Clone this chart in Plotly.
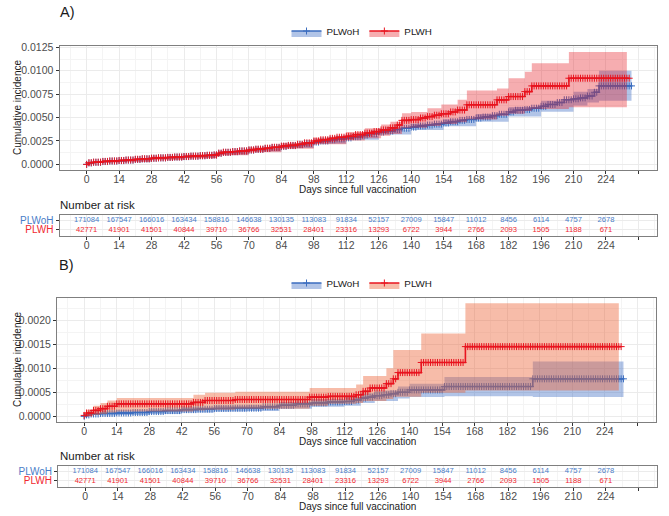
import numpy as np
import plotly.graph_objects as go

# ---------------- data ----------------
tick_days = [0, 14, 28, 42, 56, 70, 84, 98, 112, 126, 140, 154, 168, 182, 196, 210, 224]
risk_plwoh = [171084, 167547, 166016, 163434, 158816, 146638, 130135, 113083, 91834,
              52157, 27009, 15847, 11012, 8456, 6114, 4757, 2678]
risk_plwh = [42771, 41901, 41501, 40844, 39710, 36766, 32531, 28401, 23316,
             13293, 6722, 3944, 2766, 2093, 1505, 1188, 671]

# Panel A - PLWoH
a_plwoh_t = [0, 1, 3, 7, 10, 14, 17, 21, 24, 28, 31, 35, 38, 42, 45, 49, 52, 55, 57, 59, 63, 66, 70,
             73, 77, 80, 84, 87, 91, 94, 98, 101, 105, 108, 112, 115, 119, 122, 126, 129, 133, 136,
             140, 143, 147, 150, 154, 157, 161, 164, 168, 171, 175, 178, 182, 185, 189, 192, 196,
             199, 203, 206, 210, 213, 216, 219, 221, 235]
a_plwoh_v = [0.0, 0.00015, 0.00022, 0.00030, 0.00035, 0.00040, 0.00045, 0.00052, 0.00058, 0.00065,
             0.00069, 0.00074, 0.00078, 0.00083, 0.00087, 0.00092, 0.00096, 0.00100, 0.00118, 0.00128,
             0.00135, 0.00142, 0.00152, 0.00160, 0.00170, 0.00180, 0.00192, 0.00200, 0.00210, 0.00222,
             0.00238, 0.00250, 0.00262, 0.00272, 0.00283, 0.00295, 0.00312, 0.00328, 0.00345, 0.00356,
             0.00372, 0.00386, 0.00398, 0.00410, 0.00420, 0.00430, 0.00442, 0.00455, 0.00470, 0.00480,
             0.00495, 0.00505, 0.00520, 0.00535, 0.00560, 0.00578, 0.00585, 0.00600, 0.00620, 0.00640,
             0.00660, 0.00690, 0.00700, 0.00710, 0.00730, 0.00770, 0.00838, 0.00838]
a_plwoh_ci_t = [0, 7, 14, 28, 42, 56, 57, 70, 84, 98, 112, 126, 140, 154, 168, 182, 196, 210, 216, 221, 235]
a_plwoh_lo = [0.0, 0.00022, 0.00031, 0.00055, 0.00072, 0.00088, 0.00105, 0.00138, 0.00176, 0.00220,
              0.00262, 0.00320, 0.00368, 0.00408, 0.00455, 0.00510, 0.00562, 0.00630, 0.00660, 0.00680, 0.00680]
a_plwoh_hi = [0.0, 0.00038, 0.00049, 0.00075, 0.00095, 0.00113, 0.00132, 0.00166, 0.00208, 0.00256,
              0.00305, 0.00370, 0.00430, 0.00478, 0.00538, 0.00612, 0.00680, 0.00775, 0.00805, 0.01000, 0.01000]

# Panel A - PLWH
a_plwh_t = [0, 1, 3, 7, 10, 14, 17, 21, 24, 28, 31, 35, 38, 42, 45, 49, 52, 55, 57, 59, 63, 66, 70,
            73, 77, 80, 84, 87, 91, 94, 98, 101, 105, 108, 112, 116, 120, 124, 127, 131, 134, 136,
            140, 144, 147, 150, 153, 157, 160, 164, 177, 182, 189, 192, 208, 234]
a_plwh_v = [0.0, 0.00018, 0.00024, 0.00032, 0.00037, 0.00042, 0.00047, 0.00055, 0.00060, 0.00066,
            0.00070, 0.00075, 0.00079, 0.00084, 0.00088, 0.00093, 0.00097, 0.00101, 0.00120, 0.00130,
            0.00137, 0.00144, 0.00155, 0.00163, 0.00173, 0.00183, 0.00195, 0.00203, 0.00215, 0.00230,
            0.00250, 0.00263, 0.00278, 0.00290, 0.00300, 0.00318, 0.00334, 0.00350, 0.00368, 0.00390,
            0.00420, 0.00470, 0.00478, 0.00495, 0.00510, 0.00525, 0.00540, 0.00560, 0.00580, 0.00636,
            0.00689, 0.00724, 0.00777, 0.00838, 0.00920, 0.00920]
a_plwh_ci_t = [0, 7, 14, 28, 42, 56, 57, 70, 84, 98, 112, 120, 127, 131, 136, 140, 147, 153, 160, 164,
               177, 182, 189, 192, 208, 233]
a_plwh_lo = [0.0, 0.00020, 0.00028, 0.00050, 0.00066, 0.00080, 0.00098, 0.00130, 0.00166, 0.00215,
             0.00255, 0.00280, 0.00305, 0.00325, 0.00385, 0.00390, 0.00410, 0.00430, 0.00450, 0.00480,
             0.00520, 0.00540, 0.00570, 0.00590, 0.00610, 0.00610]
a_plwh_hi = [0.0, 0.00045, 0.00058, 0.00083, 0.00103, 0.00122, 0.00143, 0.00180, 0.00225, 0.00285,
             0.00345, 0.00385, 0.00425, 0.00455, 0.00545, 0.00560, 0.00600, 0.00640, 0.00690, 0.00790,
             0.00810, 0.00920, 0.00990, 0.01080, 0.01200, 0.01200]

# Panel B - PLWoH
b_plwoh_t = [0, 1, 3, 7, 14, 21, 28, 35, 42, 49, 56, 63, 70, 77, 84, 91, 98, 105, 112, 116, 119,
             122, 125, 129, 132, 135, 140, 155, 193, 232]
b_plwoh_v = [0.0, 0.00003, 0.00005, 0.00006, 0.00007, 0.00008, 0.00010, 0.00012, 0.00014, 0.00015,
             0.000165, 0.00017, 0.00017, 0.00020, 0.00023, 0.00026, 0.00028, 0.00030, 0.00031, 0.00034,
             0.00038, 0.00040, 0.00043, 0.00045, 0.00047, 0.00050, 0.00055, 0.00062, 0.00078, 0.00078]
b_plwoh_ci_t = [0, 7, 14, 28, 42, 56, 70, 84, 98, 112, 119, 125, 135, 140, 155, 193, 232]
b_plwoh_lo = [0.0, 0.00002, 0.00003, 0.00005, 0.00008, 0.00010, 0.00011, 0.00016, 0.00020, 0.00022,
              0.00028, 0.00032, 0.00037, 0.00040, 0.00042, 0.00040, 0.00040]
b_plwoh_hi = [0.0, 0.00010, 0.00012, 0.00015, 0.00019, 0.00022, 0.00023, 0.00030, 0.00036, 0.00040,
              0.00048, 0.00054, 0.00062, 0.00068, 0.00082, 0.00114, 0.00114]

# Panel B - PLWH
b_plwh_t = [0, 1, 4, 7, 10, 14, 47, 52, 65, 97, 105, 117, 120, 123, 130, 133, 135, 145, 164, 231]
b_plwh_v = [0.00002, 0.00007, 0.000125, 0.00016, 0.00021, 0.00026, 0.00029, 0.00033, 0.00035, 0.00040,
            0.000415, 0.00045, 0.00052, 0.00059, 0.00068, 0.00078, 0.00091, 0.00112, 0.00145, 0.00145]
b_plwh_ci_t = [0, 1, 4, 7, 10, 14, 47, 52, 65, 97, 105, 117, 120, 130, 133, 145, 164, 230]
b_plwh_lo = [0.0, 0.00001, 0.00003, 0.00005, 0.00008, 0.00010, 0.00012, 0.00014, 0.00016, 0.00022,
             0.00026, 0.00028, 0.00032, 0.00036, 0.00041, 0.00049, 0.00054, 0.00054]
b_plwh_hi = [0.00007, 0.00014, 0.00022, 0.00028, 0.00033, 0.00038, 0.00045, 0.00049, 0.00051, 0.00059,
             0.00059, 0.00066, 0.00084, 0.00100, 0.00138, 0.00172, 0.00235, 0.00235]

# ---------------- style ----------------
W, H = 669, 516
FONT = "Liberation Sans"
BLUE = "#3B6DBF"
RED = "#E8141F"
BLUE_FILL = "rgba(59,108,196,0.40)"
RED_FILL_A = "rgba(230,20,30,0.35)"
RED_FILL_B = "rgba(235,95,50,0.42)"
TXT_BLUE = "#4A7DC8"
TXT_RED = "#F02830"
GRID = "#EBEBEB"
GRID_MINOR = "#F4F4F4"
TICKC = "#4D4D4D"


def dx(l, r):
    return [l / W, r / W]


def dy(top, bottom):
    return [1 - bottom / H, 1 - top / H]


def step_at(t, v, x):
    t = np.asarray(t, float)
    v = np.asarray(v, float)
    idx = np.searchsorted(t, x, side="right") - 1
    return v[np.clip(idx, 0, len(v) - 1)]


fig = go.Figure()


def add_curve(xa, ya, t, v, ci_t, lo, hi, color, fill, name, legend):
    # CI ribbon
    fig.add_trace(go.Scatter(x=ci_t, y=lo, mode="lines", line=dict(width=0, shape="hv"),
                             xaxis=xa, yaxis=ya, showlegend=False, hoverinfo="skip"))
    fig.add_trace(go.Scatter(x=ci_t, y=hi, mode="lines", line=dict(width=0, shape="hv"),
                             fill="tonexty", fillcolor=fill, xaxis=xa, yaxis=ya,
                             showlegend=False, hoverinfo="skip"))
    # estimate
    fig.add_trace(go.Scatter(x=t, y=v, mode="lines", line=dict(color=color, width=1.6, shape="hv"),
                             xaxis=xa, yaxis=ya, showlegend=False, hoverinfo="skip"))
    # censor marks: at each day along the curve
    cx = np.arange(0, t[-1] + 1, 1.0)
    cy = step_at(t, v, cx)
    fig.add_trace(go.Scatter(x=cx, y=cy, mode="markers",
                             marker=dict(symbol="cross-thin-open", size=5, color=color,
                                         line=dict(width=1, color=color)),
                             xaxis=xa, yaxis=ya, showlegend=False, hoverinfo="skip"))
    # legend key
    fig.add_trace(go.Scatter(x=[None], y=[None], mode="lines+markers", name=name,
                             line=dict(color=color, width=1.6), fill="toself", fillcolor=fill,
                             marker=dict(symbol="cross-thin-open", size=5, color=color,
                                         line=dict(width=1, color=color)),
                             xaxis=xa, yaxis=ya, legend=legend, showlegend=True))


add_curve("x", "y", a_plwoh_t, a_plwoh_v, a_plwoh_ci_t, a_plwoh_lo, a_plwoh_hi, BLUE, BLUE_FILL, "PLWoH", "legend")
add_curve("x", "y", a_plwh_t, a_plwh_v, a_plwh_ci_t, a_plwh_lo, a_plwh_hi, RED, RED_FILL_A, "PLWH", "legend")
add_curve("x3", "y3", b_plwoh_t, b_plwoh_v, b_plwoh_ci_t, b_plwoh_lo, b_plwoh_hi, BLUE, BLUE_FILL, "PLWoH", "legend2")
add_curve("x3", "y3", b_plwh_t, b_plwh_v, b_plwh_ci_t, b_plwh_lo, b_plwh_hi, RED, RED_FILL_B, "PLWH", "legend2")

# risk tables
for xa, ya in (("x2", "y2"), ("x4", "y4")):
    fig.add_trace(go.Scatter(x=tick_days, y=[1] * len(tick_days), mode="text",
                             text=[str(n) for n in risk_plwoh],
                             textfont=dict(size=7.6, color=TXT_BLUE, family=FONT),
                             xaxis=xa, yaxis=ya, showlegend=False, hoverinfo="skip"))
    fig.add_trace(go.Scatter(x=tick_days, y=[0] * len(tick_days), mode="text",
                             text=[str(n) for n in risk_plwh],
                             textfont=dict(size=7.6, color=TXT_RED, family=FONT),
                             xaxis=xa, yaxis=ya, showlegend=False, hoverinfo="skip"))

XR = [-11.7, 246.0]
xtv = tick_days + [238]
xtt = [str(d) for d in tick_days] + [""]


def xaxis(domain, anchor, labels=True):
    return dict(domain=domain, anchor=anchor, range=XR, tickmode="array", tickvals=xtv, ticktext=xtt,
                showticklabels=labels, ticks="outside", ticklen=3, tickcolor="#333333",
                ticklabelstandoff=-4,
                tickfont=dict(size=10.5, color=TICKC, family=FONT), automargin=False,
                showgrid=True, gridcolor=GRID, gridwidth=0.8, zeroline=False,
                showline=True, mirror=True, linecolor="#7F7F7F", linewidth=1,
                minor=dict(tickmode="linear", tick0=7, dtick=7, showgrid=True,
                           gridcolor=GRID_MINOR, gridwidth=0.5, ticks=""))


def yaxis(domain, anchor, rng, dtick):
    return dict(domain=domain, anchor=anchor, range=rng, tickmode="linear", tick0=0, dtick=dtick,
                tickformat=".4f", ticks="outside", ticklen=3, tickcolor="#333333",
                tickfont=dict(size=10.5, color=TICKC, family=FONT), automargin=False,
                showgrid=True, gridcolor=GRID, gridwidth=0.8, zeroline=False,
                showline=True, mirror=True, linecolor="#7F7F7F", linewidth=1,
                minor=dict(tickmode="linear", tick0=dtick / 2, dtick=dtick / 2, showgrid=True,
                           gridcolor=GRID_MINOR, gridwidth=0.5, ticks=""))


def ytable(domain, anchor):
    return dict(domain=domain, anchor=anchor, range=[-0.65, 1.55], tickmode="array", tickvals=[1, 0],
                ticktext=['<span style="color:%s">PLWoH</span>' % TXT_BLUE,
                          '<span style="color:%s">PLWH</span>' % TXT_RED],
                tickfont=dict(size=10, family=FONT), ticks="outside", ticklen=3, tickcolor="#333333",
                automargin=False,
                showgrid=True, gridcolor=GRID, gridwidth=0.8, zeroline=False,
                showline=True, mirror=True, linecolor="#7F7F7F", linewidth=1)


layout = dict(
    template="none",
    width=W, height=H, margin=dict(l=0, r=0, t=0, b=0, pad=0, autoexpand=False),
    paper_bgcolor="white", plot_bgcolor="white",
    font=dict(family=FONT, size=10, color="#1A1A1A"),
    xaxis=xaxis(dx(59.5, 657), "y"),
    yaxis=yaxis(dy(46, 170), "x", [-0.0006, 0.01264], 0.0025),
    xaxis2=xaxis(dx(59.5, 657), "y2"),
    yaxis2=ytable(dy(215, 236), "x2"),
    xaxis3=xaxis(dx(57, 656), "y3"),
    yaxis3=yaxis(dy(298, 422), "x3", [-0.000117, 0.00246], 0.0005),
    xaxis4=xaxis(dx(58, 657), "y4"),
    yaxis4=ytable(dy(466, 487), "x4"),
    legend=dict(orientation="h", x=362 / W, y=1 - 31 / H, xanchor="center", yanchor="middle",
                font=dict(size=9.8, family=FONT, color="#1A1A1A"), bgcolor="rgba(0,0,0,0)",
                itemwidth=30, traceorder="normal"),
    legend2=dict(orientation="h", x=362 / W, y=1 - 283 / H, xanchor="center", yanchor="middle",
                 font=dict(size=9.8, family=FONT, color="#1A1A1A"), bgcolor="rgba(0,0,0,0)",
                 itemwidth=30, traceorder="normal"),
    showlegend=True,
)
fig.update_layout(**layout)


def ann(text, xpx, ypx, size, xanchor="center", angle=0, color="#1A1A1A"):
    fig.add_annotation(text=text, x=xpx / W, y=1 - ypx / H, xref="paper", yref="paper",
                       xanchor=xanchor, yanchor="middle", showarrow=False, textangle=angle,
                       font=dict(size=size, family=FONT, color=color))


ann("A)", 58, 12, 14.5, "left")
ann("B)", 57, 265, 14.5, "left")
ann("Cumulative incidence", 17, 108, 10, angle=-90)
ann("Cumulative incidence", 17, 360, 10, angle=-90)
ann("Days since full vaccination", 358, 189, 10)
ann("Days since full vaccination", 357, 441, 10)
ann("Days since full vaccination", 358, 506, 10)
ann("Number at risk", 58, 205, 11.5, "left")
ann("Number at risk", 58, 456, 11.5, "left")

fig.write_html("out.html", config={"displayModeBar": False},
               post_script="document.body.style.margin='0px';document.body.style.overflow='hidden';")
